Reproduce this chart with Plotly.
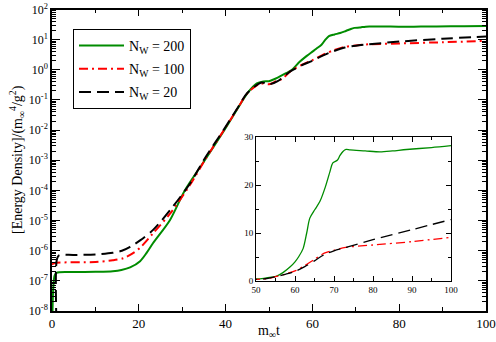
import plotly.graph_objects as go

# ---- data ----
t_200 = [0.1, 0.3, 0.6, 1, 5, 10, 14, 16, 18, 20.3, 21.8, 23.3, 27.2, 30.6, 35.2, 39.7, 42.6, 45, 47.2, 48.7,
         50, 52, 54, 55.3, 57, 58.7, 60, 60.9, 62.1, 63, 63.8, 65.1, 66.4, 67.7, 69, 69.7, 70.9, 71.5, 72.3,
         73.1, 74.1, 78, 81.8, 85, 88.6, 95, 100]
e_200 = [8e-9, 6e-8, 1.5e-7, 1.85e-7, 1.95e-7, 2.0e-7, 2.1e-7, 2.3e-7, 2.8e-7, 4.5e-7, 8.5e-7, 1.8e-6, 1.05e-5,
         1.0e-4, 1.0e-3, 1.0e-2, 4.7e-2, 0.166, 0.355, 0.41,
         0.42, 0.55, 0.78, 1.0, 1.8, 2.9, 4.0, 5.0, 6.8, 10.0, 13.1, 14.9, 16.6, 19.4, 22.9, 24.6, 25.2, 26.1, 27.0,
         27.4, 27.3, 27.1, 26.9, 27.1, 27.4, 27.8, 28.2]

t_100 = [0, 0.5, 1, 10, 14, 16.4, 18.5, 20.3, 23.3, 27.2, 31.5, 35.2, 39.7, 42.6, 45, 48, 50, 51.8, 53, 55,
         57.5, 60, 62.5, 65, 67.5, 70, 73, 80, 90, 100]
e_100 = [3.5e-7, 3.8e-7, 4.0e-7, 4.2e-7, 4.8e-7, 5.6e-7, 8e-7, 1.25e-6, 3.8e-6, 1.7e-5, 1.3e-4, 1.0e-3, 1.05e-2,
         4.8e-2, 0.165, 0.35, 0.33, 0.43, 0.5, 0.9,
         1.45, 2.1, 3.2, 4.5, 5.8, 6.4, 7.0, 7.5, 8.2, 9.1]

t_20 = [1.0, 1.1, 1.6, 5, 10, 14, 16.1, 18, 20.3, 23.3, 27.2, 31.8, 35.2, 39.7, 42.6, 45, 48.3, 50, 52, 55,
        57.5, 60, 62.5, 65, 67.5, 70, 73, 80, 90, 100]
e_20 = [5e-9, 5e-7, 7e-7, 7.2e-7, 7.5e-7, 8.5e-7, 1.0e-6, 1.35e-6, 2.2e-6, 4.9e-6, 2.2e-5, 1.7e-4, 1.15e-3,
        1.1e-2, 5e-2, 0.17, 0.38, 0.33, 0.42, 0.9,
        1.4, 2.0, 3.0, 4.2, 5.5, 6.3, 7.0, 8.6, 10.7, 12.8]

names = ["N<sub>W</sub> = 200", "N<sub>W</sub> = 100", "N<sub>W</sub> = 20"]
colors = ["#008c00", "#ff0000", "#000000"]
dashes = ["solid", "9px,4px,2px,4px", "12px,6px"]

y_exps = list(range(-8, 3))
y_tickvals = [10.0 ** e for e in y_exps]
y_ticktext = ["10<sup>%d</sup>" % e for e in y_exps]

FONT = "Liberation Serif"

fig = go.Figure()
series = [(t_200, e_200), (t_100, e_100), (t_20, e_20)]
for (t, e), n, c, d in zip(series, names, colors, dashes):
    fig.add_trace(go.Scatter(x=t, y=e, mode="lines", name=n, legendgroup=n,
                             line=dict(color=c, width=2, dash=d, shape="spline", smoothing=0.8),
                             xaxis="x", yaxis="y"))
for (t, e), n, c, d in zip(series, names, colors, dashes):
    fig.add_trace(go.Scatter(x=t, y=e, mode="lines", name=n, showlegend=False,
                             line=dict(color=c, width=1.3, dash=d, shape="spline", smoothing=0.8),
                             xaxis="x2", yaxis="y2"))

axis_common = dict(showline=True, linecolor="black", mirror="allticks", automargin=False,
                   ticks="inside", showgrid=False, zeroline=False, tickcolor="black")

fig.update_layout(
    width=496, height=342,
    margin=dict(l=0, r=0, t=0, b=0, autoexpand=False),
    paper_bgcolor="white", plot_bgcolor="white",
    font=dict(family=FONT, color="black", size=13),
    xaxis=dict(domain=[52/496, 486/496], range=[0, 100], tickvals=[0, 20, 40, 60, 80, 100],
               ticklen=7, tickwidth=1.2, tickfont=dict(size=13), linewidth=1.5,
               minor=dict(ticks="inside", ticklen=4, tickvals=[10, 30, 50, 70, 90], tickcolor="black"),
               anchor="y", **axis_common),
    yaxis=dict(domain=[31/342, 332.5/342], type="log", range=[-8, 2],
               tickvals=y_tickvals, ticktext=y_ticktext, ticklen=8, tickwidth=1.2, linewidth=1.5,
               tickfont=dict(size=12),
               minor=dict(ticks="inside", ticklen=4, dtick="D1", tickcolor="black"),
               anchor="x", **axis_common),
    xaxis2=dict(domain=[256/496, 451/496], range=[50, 100], tickvals=[50, 60, 70, 80, 90, 100],
                ticklen=5, tickwidth=1, tickfont=dict(size=9), linewidth=1,
                minor=dict(ticks="inside", ticklen=3, tickvals=[55, 65, 75, 85, 95], tickcolor="black"),
                anchor="y2", **axis_common),
    yaxis2=dict(domain=[61/342, 205/342], range=[0, 30], tickvals=[0, 10, 20, 30],
                ticklen=5, tickwidth=1, tickfont=dict(size=9), linewidth=1,
                minor=dict(ticks="inside", ticklen=3, tickvals=[5, 15, 25], tickcolor="black"),
                anchor="x2", **axis_common),
    legend=dict(x=73/496, y=(342-29)/342, xanchor="left", yanchor="top",
                bordercolor="black", borderwidth=1, bgcolor="white",
                font=dict(family=FONT, size=14), tracegroupgap=2, itemwidth=45),
    annotations=[
        dict(text="m<sub>∞</sub>t", x=269/496, y=(342-331)/342, xref="paper", yref="paper",
             xanchor="center", yanchor="middle",
             showarrow=False, font=dict(size=14, family=FONT)),
        dict(text="[Energy Density]/(m<sub>∞</sub><sup>4</sup>/g<sup>2</sup>)", x=17/496, y=(342-160)/342,
             xref="paper", yref="paper", xanchor="center", yanchor="middle",
             showarrow=False, textangle=-90, font=dict(size=14, family=FONT)),
    ],
)

fig.write_html("out.html", config={"displayModeBar": False},
               post_script="document.body.style.margin='0px';")
